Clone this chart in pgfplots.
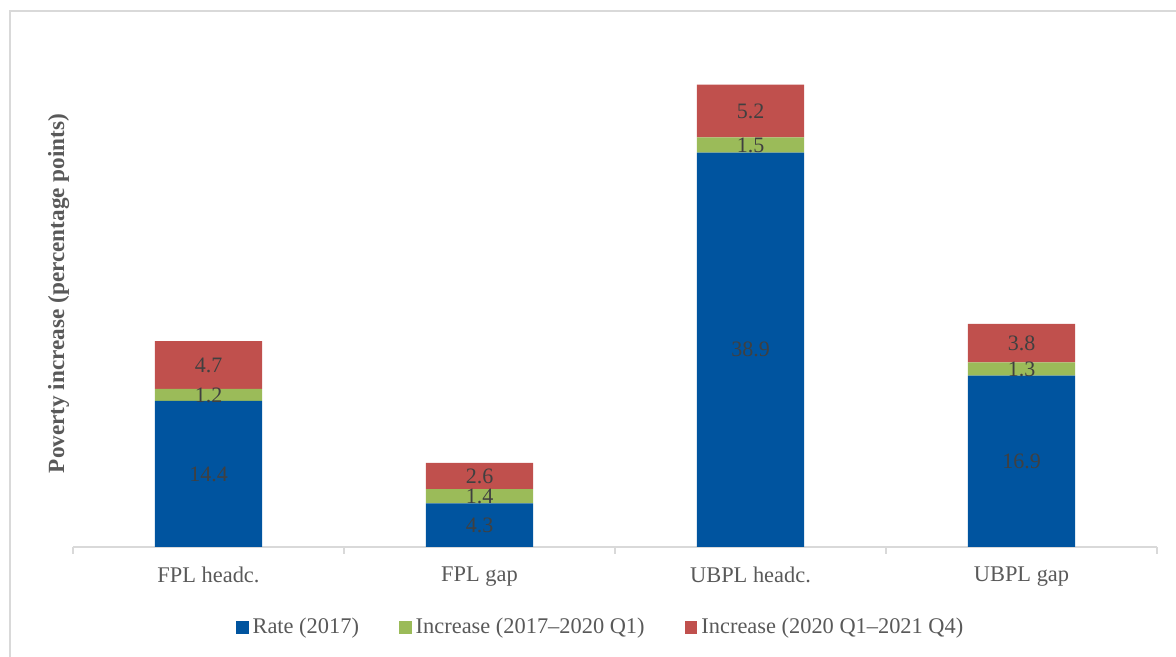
\documentclass[border=0pt]{standalone}
\usepackage{fontspec}
\setmainfont{Liberation Serif}
\usepackage{pgfplots}
\pgfplotsset{compat=1.18}

\definecolor{rateblue}{RGB}{0,84,159}
\definecolor{incgreen}{RGB}{155,187,89}
\definecolor{incred}{RGB}{192,80,77}
\definecolor{labelgray}{RGB}{89,89,89}
\definecolor{valgray}{RGB}{64,64,64}
\definecolor{linegray}{RGB}{217,217,217}

\pgfplotsset{
  sqlegend/.style={legend image code/.code={%
    \fill[##1] (0pt,-3.2pt) rectangle (6.4pt,3.2pt);}},
}

\begin{document}
\begin{tikzpicture}
\path[use as bounding box] (-36.5pt,-55pt) rectangle (551.5pt,273.5pt);
\draw[linegray, line width=0.8pt] (-31.5pt,-70pt) |- (570pt,268pt);

\begin{axis}[
  scale only axis,
  width=542pt,
  height=253.5pt,
  ybar stacked,
  bar width=0.395,
  xmin=-0.5, xmax=3.5,
  ymin=0, ymax=50,
  axis x line*=bottom,
  axis y line*=left,
  x axis line style={linegray, line width=0.8pt},
  y axis line style={draw=none},
  xtick={0,1,2,3},
  xticklabels={FPL headc., FPL gap, UBPL headc., UBPL gap},
  major tick length=0pt,
  extra x ticks={-0.5,0.5,1.5,2.5,3.5},
  extra x tick labels={},
  extra x tick style={major tick length=3.5pt, tick align=outside,
    major tick style={linegray, line width=0.8pt}},
  ytick=\empty,
  tick label style={font=\fontsize{11.2}{13}\selectfont, text=labelgray},
  xticklabel style={yshift=-6.3pt},
  ylabel={\textbf{Poverty increase (percentage points)}},
  every axis y label/.style={at={(axis description cs:-0.003,0.5)},
    rotate=90, anchor=south, inner sep=0pt,
    font=\fontsize{11.6}{13}\selectfont, text=labelgray},
  legend style={at={(axis description cs:0.4876,-0.158)}, anchor=center,
    draw=none, fill=none, legend columns=3,
    font=\fontsize{11.2}{13}\selectfont, text=labelgray,
    /tikz/every even column/.append style={column sep=18pt}},
  legend cell align=left,
  nodes near coords,
  /pgf/number format/.cd, fixed, fixed zerofill, precision=1, assume math mode=true,
  /pgfplots/.cd,
  every node near coord/.append style={anchor=center,
    font=\fontsize{11}{13}\selectfont, text=valgray},
]
\addplot[fill=rateblue, draw=none, sqlegend]
  coordinates {(0,14.4) (1,4.3) (2,38.9) (3,16.9)};
\addlegendentry{Rate (2017)}

\addplot[fill=incgreen, draw=none, sqlegend]
  coordinates {(0,1.2) (1,1.4) (2,1.5) (3,1.3)};
\addlegendentry{Increase (2017–2020 Q1)}

\addplot[fill=incred, draw=none, sqlegend]
  coordinates {(0,4.7) (1,2.6) (2,5.2) (3,3.8)};
\addlegendentry{Increase (2020 Q1–2021 Q4)}
\end{axis}
\end{tikzpicture}
\end{document}
